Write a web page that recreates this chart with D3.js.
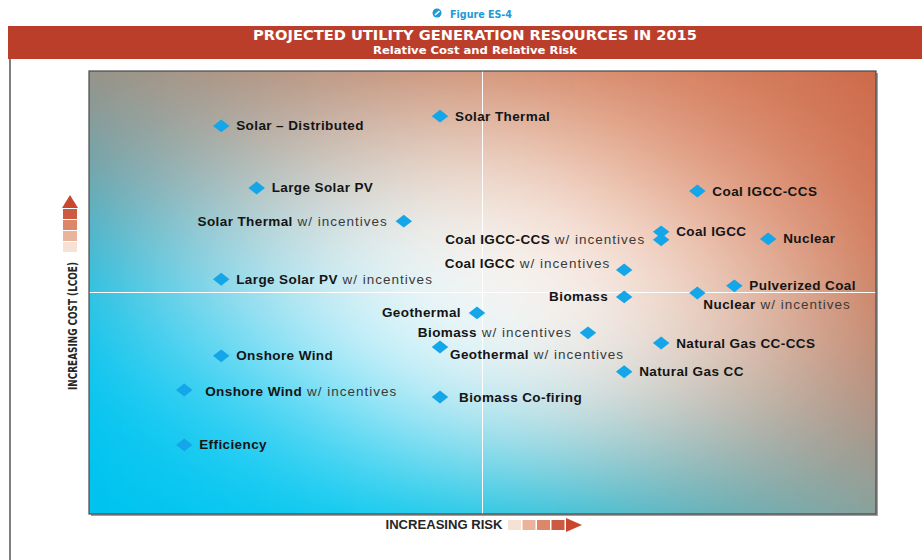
<!DOCTYPE html>
<html>
<head>
<meta charset="utf-8">
<script src="https://cdn.jsdelivr.net/npm/d3@7"></script>
<style>
  body { margin: 0; background: #fff; }
  svg { display: block; }
</style>
</head>
<body>
<div id="chart"></div>
<script>
// resources, relative risk (x, 0-100) and relative cost (y, 0-100)
const names = [
  "Solar \u2013 Distributed", "Solar Thermal", "Large Solar PV", "Solar Thermal",
  "Coal IGCC-CCS", "Coal IGCC", "Coal IGCC-CCS", "Nuclear",
  "Coal IGCC", "Large Solar PV", "Pulverized Coal", "Biomass",
  "Nuclear", "Geothermal", "Biomass", "Geothermal",
  "Natural Gas CC-CCS", "Natural Gas CC", "Onshore Wind", "Onshore Wind",
  "Biomass Co-firing", "Efficiency"
];
const incentives = [
  false, false, false, true,
  false, false, true, false,
  true, true, false, false,
  true, false, true, true,
  false, false, false, true,
  false, false
];
const risk = [16.8, 44.6, 21.3, 40.0, 77.3, 72.7, 72.7, 86.3, 68.0, 16.8, 82.0, 68.0,
              77.3, 49.3, 63.4, 44.6, 72.7, 68.0, 16.8, 12.1, 44.6, 12.1];
const cost = [87.6, 89.8, 73.6, 66.1, 72.9, 63.7, 61.9, 62.1, 55.1, 53.0, 51.5, 49.0,
              49.9, 45.4, 40.9, 37.7, 38.6, 32.1, 35.7, 28.0, 26.4, 15.6];

// label placement: side of the diamond, plus a few nudges
const labelSide = ["r","r","r","l","r","r","l","r","l","r","r","l",
                   "r","l","l","r","r","r","r","r","r","r"];
const labelNudge = {8: [2, -6], 12: [-9, 12], 15: [-5, 8], 19: [6, 2], 20: [4, 0]};

// background colour field, rows top -> bottom, columns left -> right
const bgGrid = [
  ["#96948a", "#b89886", "#d99c80", "#d88464", "#cd6a4a"],
  ["#70a6ae", "#c4c2bc", "#f6e4d6", "#e2a286", "#d27556"],
  ["#24c4e8", "#a8e4f4", "#ffffff", "#f2d0be", "#d08464"],
  ["#00c4f0", "#28cdf2", "#d0eef6", "#ccc4ba", "#b49282"],
  ["#00c3f0", "#06c8f0", "#2ccdec", "#64b4bc", "#88a29c"]
];

const W = 922, H = 560;
const plot = {left: 89, right: 876, top: 71, bottom: 514};
const cond = "'Liberation Sans Narrow','DejaVu Sans Condensed',sans-serif";
const sans = "'Liberation Sans',Arial,sans-serif";

const svg = d3.select("#chart").append("svg")
  .attr("width", W).attr("height", H);

// header
svg.append("text")
  .attr("x", 481).attr("y", 18)
  .attr("text-anchor", "middle")
  .attr("fill", "#1e9ad6")
  .style("font-family", cond)
  .style("font-weight", "bold").style("font-size", "11px")
  .attr("textLength", 62).attr("lengthAdjust", "spacingAndGlyphs")
  .text("Figure ES-4");
svg.append("circle").attr("cx", 437).attr("cy", 13).attr("r", 4.5).attr("fill", "#1e9ad6");
svg.append("line").attr("x1", 435).attr("y1", 15).attr("x2", 439.5).attr("y2", 11)
  .attr("stroke", "#fff").attr("stroke-width", 1.6);

svg.append("rect").attr("x", 8).attr("y", 26).attr("width", W - 8).attr("height", 33)
  .attr("fill", "#bb3e2b");
svg.append("line").attr("x1", 10).attr("x2", 10).attr("y1", 59).attr("y2", H)
  .attr("stroke", "#555").attr("stroke-width", 1.5);

svg.append("text")
  .attr("x", 475).attr("y", 40)
  .attr("text-anchor", "middle").attr("fill", "#fff")
  .style("font-family", cond)
  .style("font-weight", "bold").style("font-size", "14px")
  .attr("textLength", 444).attr("lengthAdjust", "spacingAndGlyphs")
  .text("PROJECTED UTILITY GENERATION RESOURCES IN 2015");
svg.append("text")
  .attr("x", 475).attr("y", 53.5)
  .attr("text-anchor", "middle").attr("fill", "#fff")
  .style("font-family", cond)
  .style("font-weight", "bold").style("font-size", "10.5px")
  .attr("textLength", 204).attr("lengthAdjust", "spacingAndGlyphs")
  .text("Relative Cost and Relative Risk");

// scales
const x = d3.scaleLinear().domain([0, 100]).range([plot.left, plot.right]);
const y = d3.scaleLinear().domain([0, 100]).range([plot.bottom, plot.top]);

// plot background, painted on a canvas from the colour field
const pw = plot.right - plot.left, ph = plot.bottom - plot.top;
const canvas = document.createElement("canvas");
canvas.width = pw; canvas.height = ph;
const ctx = canvas.getContext("2d");
const img = ctx.createImageData(pw, ph);
const rowInterp = bgGrid.map(r => d3.interpolateRgbBasis(r));
for (let i = 0; i < pw; i++) {
  const u = i / (pw - 1);
  const colInterp = d3.interpolateRgbBasis(rowInterp.map(f => f(u)));
  for (let j = 0; j < ph; j++) {
    const c = d3.rgb(colInterp(j / (ph - 1)));
    // extra white glow round the centre
    const dx = (u - 0.5) / 0.32, dy = (j / (ph - 1) - 0.52) / 0.3;
    const g = 0.45 * Math.exp(-(dx * dx + dy * dy));
    const k = (j * pw + i) * 4;
    img.data[k] = c.r + (255 - c.r) * g;
    img.data[k + 1] = c.g + (255 - c.g) * g;
    img.data[k + 2] = c.b + (255 - c.b) * g;
    img.data[k + 3] = 255;
  }
}
ctx.putImageData(img, 0, 0);

svg.append("rect").attr("x", plot.left + 2).attr("y", plot.top + 2)
  .attr("width", pw).attr("height", ph).attr("fill", "#a0a0a0");
svg.append("image")
  .attr("x", plot.left).attr("y", plot.top)
  .attr("width", pw).attr("height", ph)
  .attr("preserveAspectRatio", "none")
  .attr("href", canvas.toDataURL());
svg.append("line").attr("x1", x(50)).attr("x2", x(50)).attr("y1", plot.top).attr("y2", plot.bottom)
  .attr("stroke", "#fff").attr("stroke-width", 1);
svg.append("line").attr("x1", plot.left).attr("x2", plot.right).attr("y1", y(50)).attr("y2", y(50))
  .attr("stroke", "#fff").attr("stroke-width", 1);
svg.append("rect").attr("x", plot.left).attr("y", plot.top)
  .attr("width", pw).attr("height", ph)
  .attr("fill", "none").attr("stroke", "#4a4a4a").attr("stroke-width", 1.2);

// points
const data = names.map((n, i) => ({name: n, inc: incentives[i], x: risk[i], y: cost[i], i: i}));
const diamond = d3.symbol().type(d3.symbolSquare).size(136);

svg.append("g").selectAll("path")
  .data(data).join("path")
  .attr("d", diamond)
  .attr("transform", d => `translate(${x(d.x)},${y(d.y)}) scale(1,0.78) rotate(45)`)
  .attr("fill", "#14a6e8");

const labels = svg.append("g")
  .style("font-family", sans)
  .style("font-size", "13.5px");

labels.selectAll("text")
  .data(data).join("text")
  .attr("x", d => {
    const nd = labelNudge[d.i] || [0, 0];
    return x(d.x) + (labelSide[d.i] === "r" ? 15 : -16) + nd[0];
  })
  .attr("y", d => y(d.y) + 4.5 + (labelNudge[d.i] || [0, 0])[1])
  .attr("text-anchor", d => labelSide[d.i] === "r" ? "start" : "end")
  .each(function(d) {
    const t = d3.select(this);
    t.append("tspan").attr("font-weight", "bold").attr("fill", "#141414")
      .style("letter-spacing", "0.4px").text(d.name);
    if (d.inc) t.append("tspan").attr("fill", "#3a3a3a")
      .style("letter-spacing", "1px").text(" w/ incentives");
  });

// axis titles
svg.append("text")
  .attr("transform", "translate(77,326) rotate(-90)")
  .attr("text-anchor", "middle").attr("fill", "#262626")
  .style("font-family", cond).style("font-weight", "bold").style("font-size", "13px")
  .attr("textLength", 128).attr("lengthAdjust", "spacingAndGlyphs")
  .text("INCREASING COST (LCOE)");
svg.append("text")
  .attr("x", 444).attr("y", 529)
  .attr("text-anchor", "middle").attr("fill", "#262626")
  .style("font-family", sans).style("font-weight", "bold").style("font-size", "13.5px")
  .attr("textLength", 117).attr("lengthAdjust", "spacingAndGlyphs")
  .text("INCREASING RISK");

const steps = ["#f6e1d5", "#eab49c", "#dc8769", "#cd5b41"];
steps.forEach((c, i) => {
  svg.append("rect").attr("x", 63).attr("y", 242 - i * 11).attr("width", 14).attr("height", 10).attr("fill", c);
  svg.append("rect").attr("x", 508 + i * 14.5).attr("y", 520).attr("width", 13).attr("height", 10).attr("fill", c);
});
svg.append("path").attr("d", "M62,208 L70,195 L78,208 Z").attr("fill", "#c9472f");
svg.append("path").attr("d", "M566,518 L582,525 L566,532 Z").attr("fill", "#c9472f");
</script>
</body>
</html>
